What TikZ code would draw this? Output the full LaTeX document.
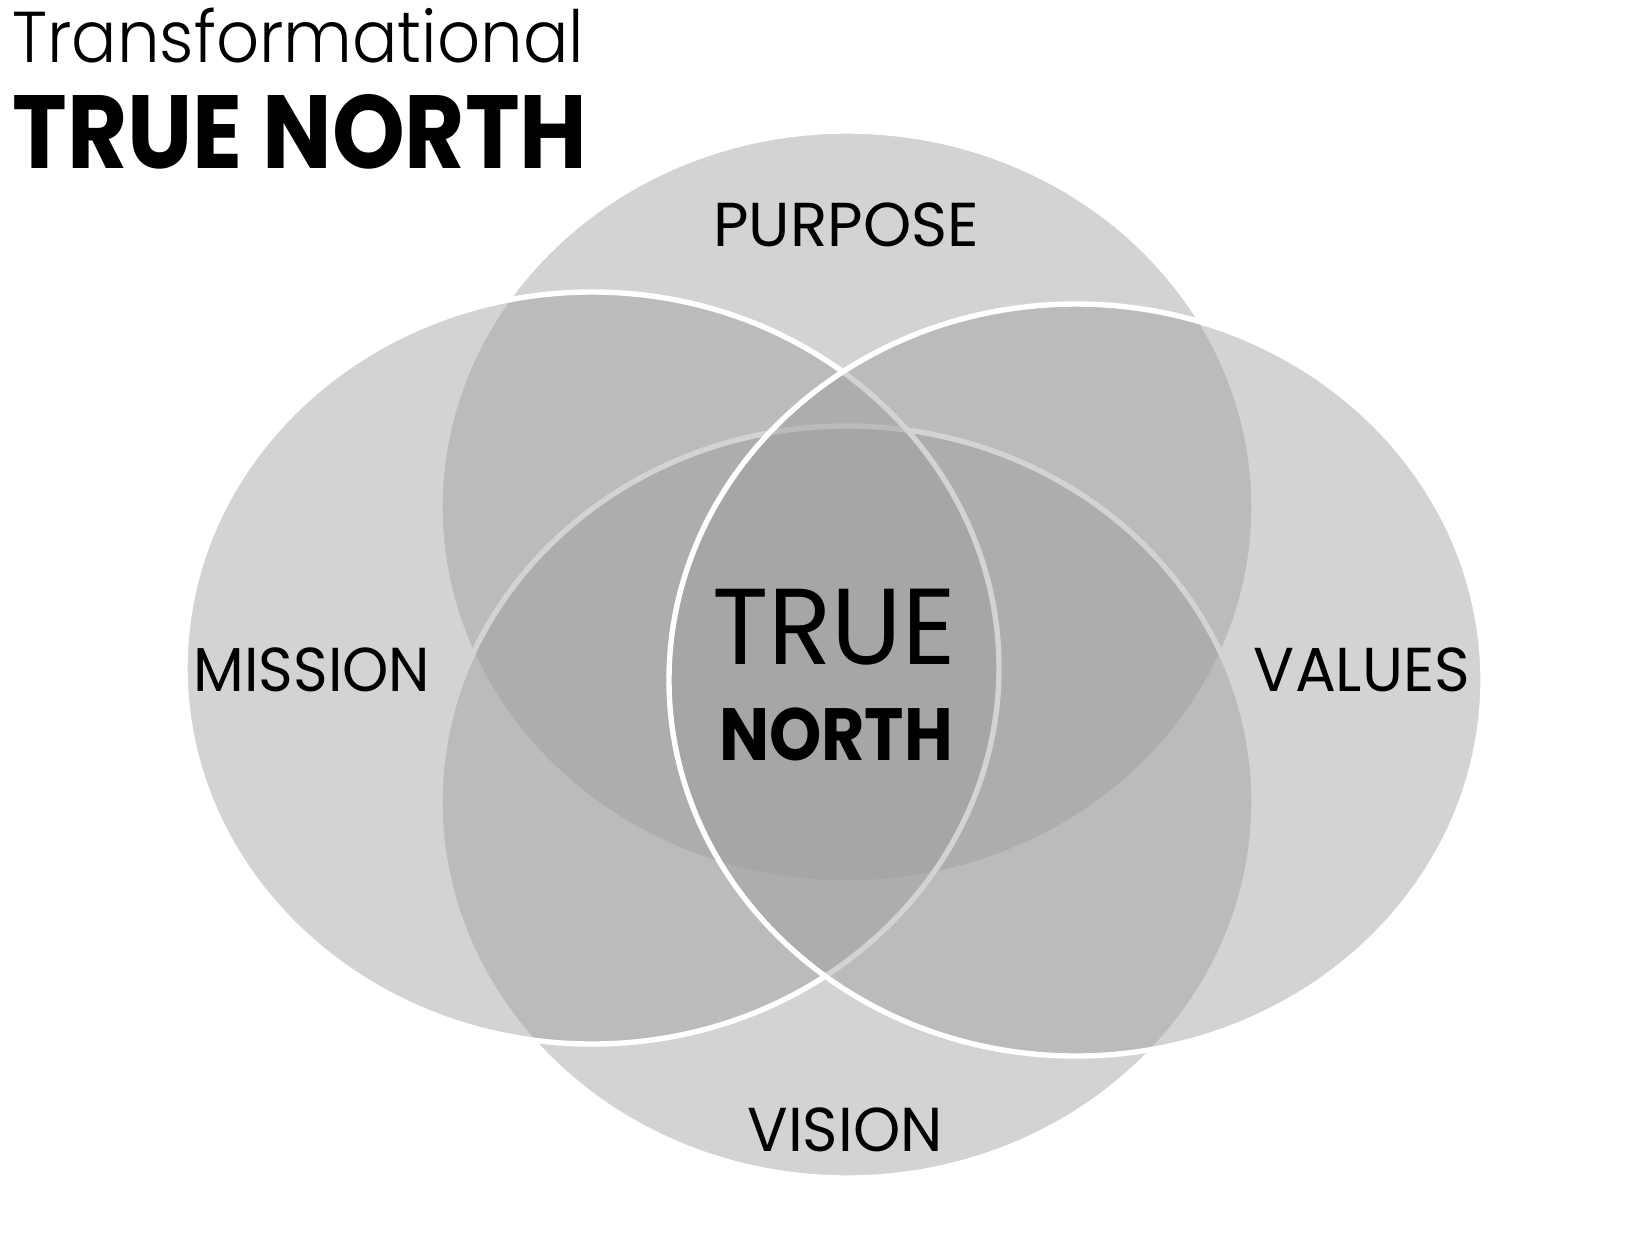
\documentclass[tikz,border=0pt]{standalone}
\usepackage{fontspec}
\setmainfont{Poppins}
\newfontfamily\lightfont{Poppins Light}
\usetikzlibrary{shapes.geometric}
\definecolor{vfill}{gray}{0.62}
\tikzset{
  venn/.style={ellipse, fill=vfill, fill opacity=0.45, draw=white, draw opacity=1,
    line width=2.7pt, inner sep=0pt, minimum width=407pt, minimum height=376pt},
  lbl/.style={anchor=base, inner sep=0pt, text=black, font=\fontsize{31}{31}\selectfont}
}
\begin{document}
\begin{tikzpicture}[x=0.5pt,y=-0.5pt]
\path[use as bounding box, fill=white] (0,0) rectangle (1626,1244);
\node[venn] (purpose) at (847,507) {};
\node[venn] (vision) at (847,802) {};
\node[venn] (mission) at (592,668) {};
\node[venn] (values) at (1076,680) {};
\node[lbl] (lpurpose) at (846,246) {\scalebox{0.99}[1]{PURPOSE}};
\node[lbl] (lmission) at (312,691) {\scalebox{0.95}[1]{MISSION}};
\node[lbl] (lvalues) at (1362,691) {\scalebox{0.98}[1]{VALUES}};
\node[lbl] (lvision) at (845,1151) {\scalebox{0.97}[1]{VISION}};
\node[lbl, font=\fontsize{54}{54}\selectfont] (ltrue) at (834,664) {\scalebox{0.966}[1]{TRUE}};
\node[lbl, font=\fontsize{37}{37}\selectfont\bfseries] (lnorth) at (836,760) {\scalebox{0.9}[1]{NORTH}};
\node[anchor=base west, inner sep=0pt, font=\fontsize{36}{36}\selectfont\lightfont] (t1) at (12,62) {\scalebox{0.935}[1]{Transformational}};
\node[anchor=base west, inner sep=0pt, font=\fontsize{52}{52}\selectfont\bfseries] (t2) at (12,168) {\scalebox{0.89}[1]{TRUE NORTH}};
\end{tikzpicture}
\end{document}
